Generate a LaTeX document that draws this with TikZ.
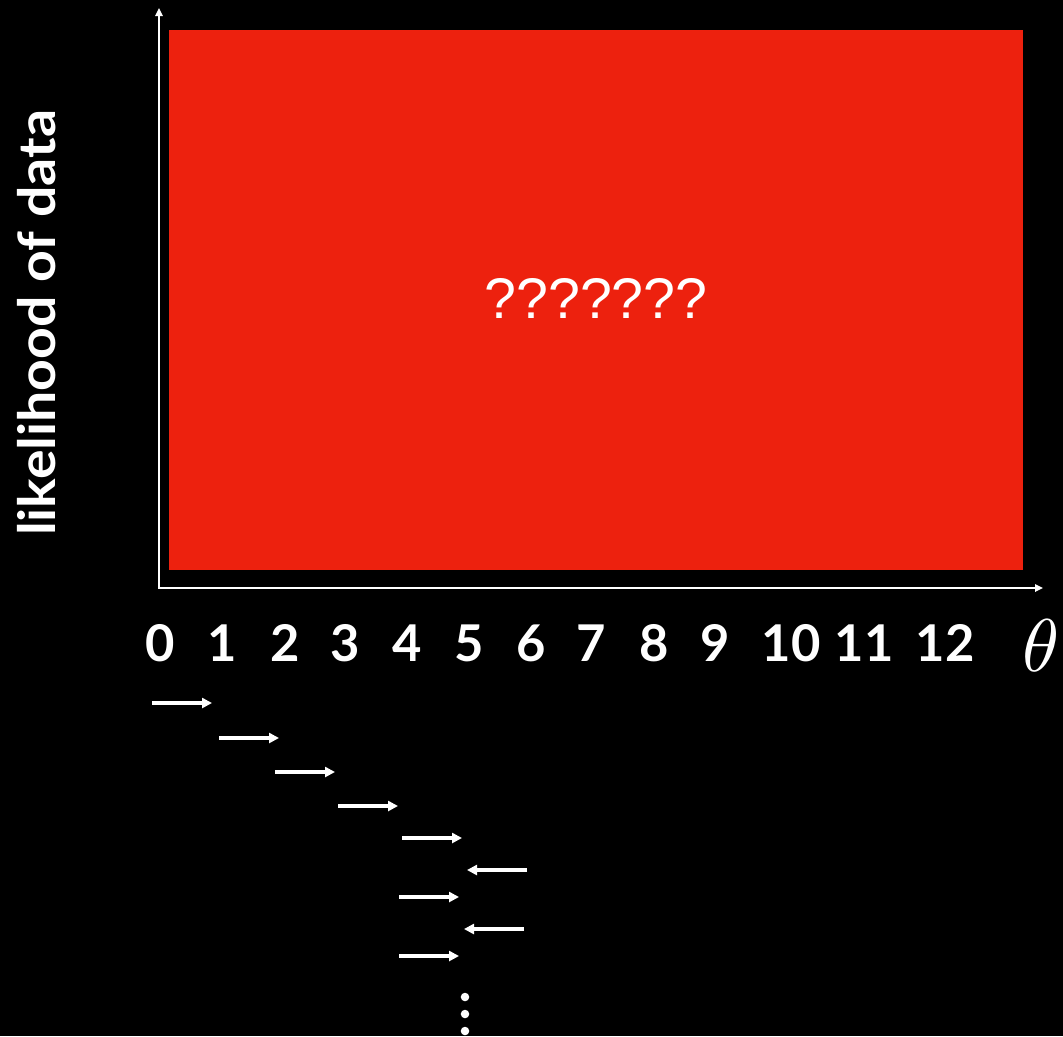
\documentclass[tikz,border=0pt]{standalone}
\usepackage{fontspec}
\setmainfont{Liberation Sans}
\newfontfamily\axisfont{Lato}
\newfontfamily\ylabelfont[FakeStretch=1.08]{Lato}
\usetikzlibrary{arrows.meta}
\definecolor{boxred}{RGB}{237,33,14}

\begin{document}
\begin{tikzpicture}[x=0.75pt, y=-0.75pt, >={Stealth[]},
  axisline/.style={white, line width=1.9pt, >={Triangle[length=6pt, width=5.5pt]}},
  ticklbl/.style={text=white, inner sep=0pt, font=\axisfont\bfseries\fontsize{38}{38}\selectfont},
  movearrow/.style={->, white, line width=2.4pt, >={Triangle[length=7.5pt, width=7.5pt]}}]
  \useasboundingbox[fill=black] (0,0) rectangle (1063,1036);   % page
  % axes
  \coordinate (O) at (159,588);
  \coordinate (ytop) at (159,8);
  \coordinate (xend) at (1043,588);
  \fill[boxred] (169,30) rectangle (1023,570);
  \node[text=white, font=\fontsize{43}{43}\selectfont] (guess) at (596,298) {???????};
  \draw[axisline, <->] (ytop) -- (O) -- (xend);
  \node[ticklbl, rotate=90, font=\ylabelfont\bfseries\fontsize{38.5}{38.5}\selectfont] (ylab) at (37,323) {likelihood of data};
  % values of theta
  \foreach \lbl/\xx in {0/160,1/222,2/285,3/345,4/407,5/469,6/531,7/591,8/654,9/715,10/791,11/864,12/945}
    \node[ticklbl] (t\lbl) at (\xx,643) {\lbl};
  \node[text=white, inner sep=0pt, scale=5.6] (theta) at (1041,646) {$\theta$};
  % steps of the search
  \foreach \a/\b/\yy [count=\i] in {152/212/703, 219/279/738, 275/335/772, 338/398/806,
      402/462/838, 527/467/870, 399/459/897, 524/464/929, 399/459/956} {
    \coordinate (s\i) at (\a,\yy);
    \coordinate (e\i) at (\b,\yy);
    \draw[movearrow] (s\i) -- (e\i);
  }
  \foreach \yy in {997,1014,1031}
    \fill[white] (465,\yy) circle (3.2pt);
\end{tikzpicture}
\end{document}
